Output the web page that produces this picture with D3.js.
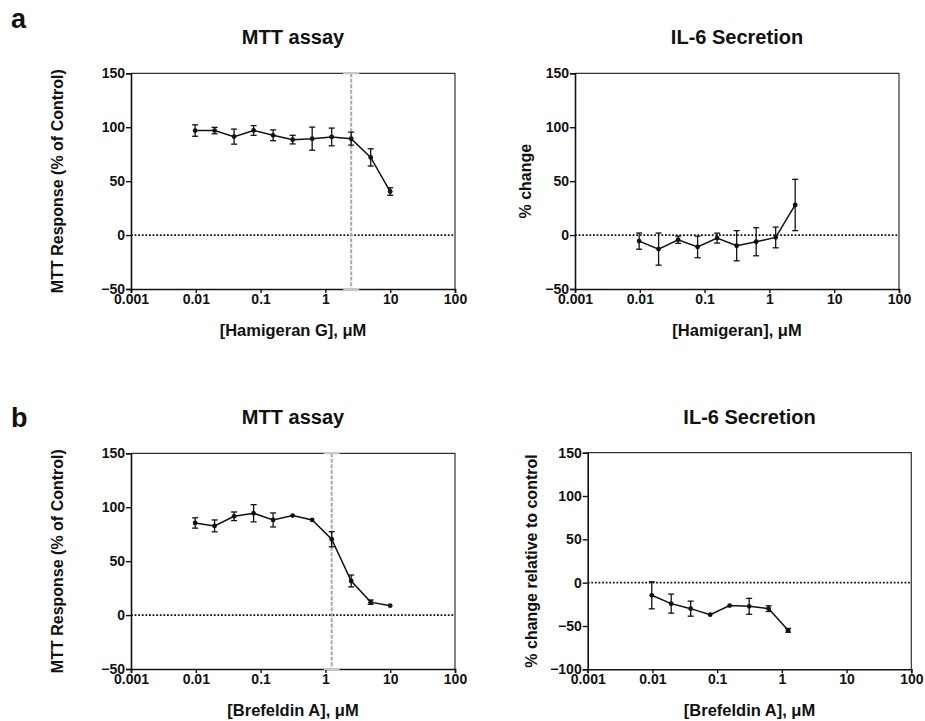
<!DOCTYPE html>
<html>
<head>
<meta charset="utf-8">
<script src="https://cdn.jsdelivr.net/npm/d3@7"></script>
<style>
  body { margin: 0; background: #fff; }
  svg { display: block; }
  text { font-family: "Liberation Sans", Arial, Helvetica, sans-serif; font-weight: bold; fill: #111; }
</style>
</head>
<body>
<div id="chart"></div>
<script>
// two-fold dilution series, uM
var conc = [0.00977, 0.0195, 0.039, 0.078, 0.156, 0.3125, 0.625, 1.25, 2.5, 5, 10];

var xTicks = [0.001, 0.01, 0.1, 1, 10, 100];
var yTicksA = [-50, 0, 50, 100, 150];
var yTicksB = [-100, -50, 0, 50, 100, 150];

// a: Hamigeran G
var mttHamMean = [96.9, 96.9, 91.3, 97, 92.5, 88.5, 89.4, 91, 89.4, 72, 40.4];
var mttHamErr  = [5.3, 3, 7, 4.5, 5, 4, 10.7, 8.2, 6, 8, 3.5];
var il6HamMean = [-5.6, -13, -4.3, -11, -2.8, -9.9, -6.2, -2.2, 27.9];
var il6HamErr  = [7.5, 14.9, 3.4, 10, 4.6, 14, 13, 9.6, 23.8];

// b: Brefeldin A
var mttBfaMean = [85.4, 82.7, 91.6, 94.4, 88.2, 92.3, 88.2, 70.3, 31.6, 12, 8.7];
var mttBfaErr  = [4.8, 5.5, 4, 8, 6.5, 0, 0, 7, 5.5, 2, 0];
var il6BfaMean = [-14.6, -24.2, -30, -37, -26.5, -27.3, -30, -55];
var il6BfaErr  = [15.6, 11, 8.7, 0, 0, 9.2, 3.3, 2.2];

var width = 925, height = 721;

var svg = d3.select("#chart").append("svg")
    .attr("width", width)
    .attr("height", height);

var panels = [
  { x0: 131, x1: 455, y0: 73.3, y1: 289, yDom: [-50, 150], yTicks: yTicksA,
    title: "MTT assay", ylab: "MTT Response (% of Control)", ylabX: 63,
    xlab: "[Hamigeran G], \u03bcM", mean: mttHamMean, err: mttHamErr, vline: 2.5 },
  { x0: 575, x1: 899, y0: 73.3, y1: 289, yDom: [-50, 150], yTicks: yTicksA,
    title: "IL-6 Secretion", ylab: "% change", ylabX: 531,
    xlab: "[Hamigeran], \u03bcM", mean: il6HamMean, err: il6HamErr, vline: null },
  { x0: 131, x1: 455, y0: 453.3, y1: 669, yDom: [-50, 150], yTicks: yTicksA,
    title: "MTT assay", ylab: "MTT Response (% of Control)", ylabX: 63,
    xlab: "[Brefeldin A], \u03bcM", mean: mttBfaMean, err: mttBfaErr, vline: 1.25 },
  { x0: 587.7, x1: 911.3, y0: 452.7, y1: 669.3, yDom: [-100, 150], yTicks: yTicksB,
    title: "IL-6 Secretion", ylab: "% change relative to control", ylabX: 537,
    xlab: "[Brefeldin A], \u03bcM", mean: il6BfaMean, err: il6BfaErr, vline: null }
];

var fmtX = function(d) { return d3.format("~g")(d); };

panels.forEach(function(p) {
  var xScale = d3.scaleLog().domain([0.001, 100]).range([p.x0, p.x1]);
  var yScale = d3.scaleLinear().domain(p.yDom).range([p.y1, p.y0]);
  var g = svg.append("g");

  var data = p.mean.map(function(m, i) {
    return { c: conc[i], m: m, e: p.err[i] };
  });

  // frame (top and right)
  g.append("path")
      .attr("d", "M" + p.x0 + "," + p.y0 + "H" + p.x1 + "V" + p.y1)
      .attr("fill", "none")
      .attr("stroke", "#333")
      .attr("stroke-width", 1.2);

  // zero line
  g.append("line")
      .attr("x1", p.x0).attr("x2", p.x1)
      .attr("y1", yScale(0)).attr("y2", yScale(0))
      .attr("stroke", "#111")
      .attr("stroke-width", 1.8)
      .attr("stroke-dasharray", "1.8,1.8");

  // axes
  var yAxis = g.append("g")
      .attr("transform", "translate(" + p.x0 + ",0)")
      .call(d3.axisLeft(yScale).tickValues(p.yTicks).tickSize(5).tickPadding(1));
  var xAxis = g.append("g")
      .attr("transform", "translate(0," + p.y1 + ")")
      .call(d3.axisBottom(xScale).tickValues(xTicks).tickFormat(fmtX).tickSize(4).tickPadding(1));
  [yAxis, xAxis].forEach(function(a) {
    a.select(".domain").attr("stroke", "#111").attr("stroke-width", 1.6);
    a.selectAll(".tick line").attr("stroke", "#111").attr("stroke-width", 1.4);
    a.selectAll("text")
        .style("font-family", "'Liberation Sans', Arial, sans-serif")
        .style("font-weight", "bold")
        .style("font-size", "14px")
        .attr("fill", "#111");
  });

  // reference line
  if (p.vline) {
    var vx = xScale(p.vline);
    g.append("line")
        .attr("x1", vx).attr("x2", vx)
        .attr("y1", p.y0).attr("y2", p.y1)
        .attr("stroke", "#aaa")
        .attr("stroke-width", 2)
        .attr("stroke-dasharray", "4,1.5");
    [p.y0, p.y1].forEach(function(yy) {
      g.append("line")
          .attr("x1", vx - 8).attr("x2", vx + 8)
          .attr("y1", yy).attr("y2", yy)
          .attr("stroke", "#c8c8c8")
          .attr("stroke-width", 2);
    });
  }

  // data line
  var valueLine = d3.line()
      .x(function(d) { return xScale(d.c); })
      .y(function(d) { return yScale(d.m); });
  g.append("path")
      .attr("d", valueLine(data))
      .attr("fill", "none")
      .attr("stroke", "#111")
      .attr("stroke-width", 1.5);

  // error bars
  var eb = g.selectAll(".eb")
      .data(data.filter(function(d) { return d.e > 0; }))
      .enter().append("g");
  eb.append("line")
      .attr("x1", function(d) { return xScale(d.c); })
      .attr("x2", function(d) { return xScale(d.c); })
      .attr("y1", function(d) { return yScale(d.m - d.e); })
      .attr("y2", function(d) { return yScale(d.m + d.e); })
      .attr("stroke", "#111").attr("stroke-width", 1.3);
  [-1, 1].forEach(function(s) {
    eb.append("line")
        .attr("x1", function(d) { return xScale(d.c) - 3; })
        .attr("x2", function(d) { return xScale(d.c) + 3; })
        .attr("y1", function(d) { return yScale(d.m + s * d.e); })
        .attr("y2", function(d) { return yScale(d.m + s * d.e); })
        .attr("stroke", "#111").attr("stroke-width", 1.3);
  });

  g.selectAll(".pt")
      .data(data)
      .enter().append("circle")
      .attr("cx", function(d) { return xScale(d.c); })
      .attr("cy", function(d) { return yScale(d.m); })
      .attr("r", 2.4)
      .attr("fill", "#111");

  // labels
  g.append("text")
      .attr("x", (p.x0 + p.x1) / 2)
      .attr("y", p.y0 - 29)
      .attr("text-anchor", "middle")
      .style("font-size", "20px")
      .text(p.title);

  g.append("text")
      .attr("x", (p.x0 + p.x1) / 2)
      .attr("y", p.y1 + 47)
      .attr("text-anchor", "middle")
      .style("font-size", "16.5px")
      .text(p.xlab);

  g.append("text")
      .attr("transform", "translate(" + p.ylabX + "," + ((p.y0 + p.y1) / 2) + ") rotate(-90)")
      .attr("text-anchor", "middle")
      .style("font-size", "16px")
      .text(p.ylab);
});

svg.append("text").attr("x", 11).attr("y", 28).style("font-size", "27px").text("a");
svg.append("text").attr("x", 11).attr("y", 427).style("font-size", "27px").text("b");
</script>
</body>
</html>
